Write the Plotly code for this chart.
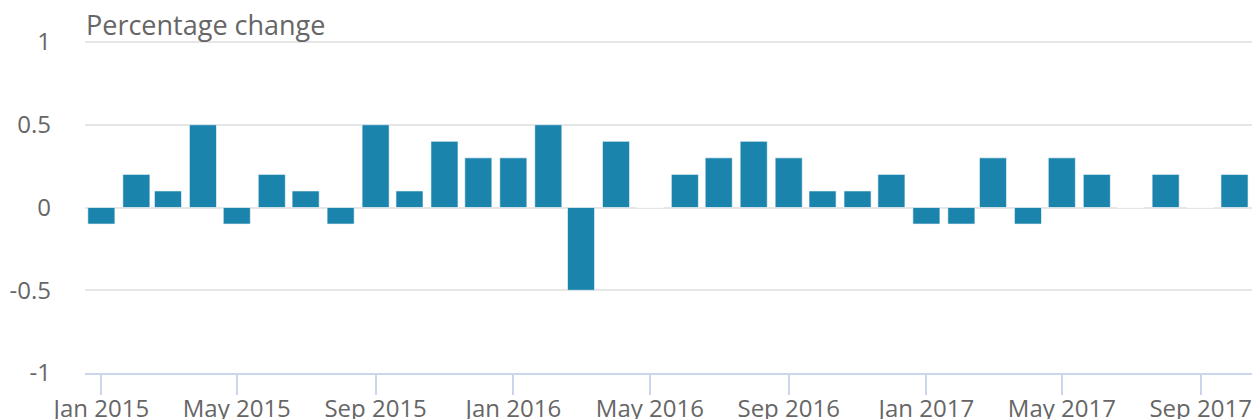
import plotly.graph_objects as go

months = ["2015-01-01","2015-02-01","2015-03-01","2015-04-01","2015-05-01","2015-06-01",
          "2015-07-01","2015-08-01","2015-09-01","2015-10-01","2015-11-01","2015-12-01",
          "2016-01-01","2016-02-01","2016-03-01","2016-04-01","2016-05-01","2016-06-01",
          "2016-07-01","2016-08-01","2016-09-01","2016-10-01","2016-11-01","2016-12-01",
          "2017-01-01","2017-02-01","2017-03-01","2017-04-01","2017-05-01","2017-06-01",
          "2017-07-01","2017-08-01","2017-09-01","2017-10-01"]
values = [-0.1, 0.2, 0.1, 0.5, -0.1, 0.2, 0.1, -0.1, 0.5, 0.1, 0.4, 0.3,
          0.3, 0.5, -0.5, 0.4, 0.0, 0.2, 0.3, 0.4, 0.3, 0.1, 0.1, 0.2,
          -0.1, -0.1, 0.3, -0.1, 0.3, 0.2, 0.0, 0.2, 0.0, 0.2]
y_ticks = [-1, -0.5, 0, 0.5, 1]
y_tick_labels = ["-1", "-0.5", "0", "0.5", "1"]

fig = go.Figure(go.Bar(
    x=months, y=values,
    marker=dict(color="#1b84ad", line=dict(color="rgba(255,255,255,0.6)", width=1)),
    width=24 * 86400000,
))

fig.update_layout(
    width=1255, height=419,
    margin=dict(l=85, r=3, t=38, b=46),
    paper_bgcolor="white", plot_bgcolor="white",
    font=dict(family="Open Sans", size=24, color="#666666"),
    showlegend=False,
    xaxis=dict(
        type="date", automargin=False,
        range=["2014-12-17 12:00", "2017-10-16 12:00"],
        dtick="M4", tick0="2015-01-01", tickformat="%b %Y",
        showgrid=False, showline=True, linecolor="#ccd6eb", linewidth=2,
        ticks="outside", ticklen=20, tickcolor="#ccd6eb", tickwidth=2,
        ticklabelstandoff=-7,
        tickfont=dict(size=24, color="#666666"),
        zeroline=False,
    ),
    yaxis=dict(
        automargin=False,
        range=[-1.0, 1.0242],
        tickvals=y_ticks, ticktext=y_tick_labels,
        showgrid=True, gridcolor="#e6e6e6", gridwidth=2,
        zeroline=True, zerolinecolor="#e6e6e6", zerolinewidth=2,
        ticklabelstandoff=33,
        tickfont=dict(size=24, color="#666666"),
        showline=False,
    ),
    annotations=[dict(
        text="Percentage change", xref="paper", yref="paper",
        x=0, y=1, xanchor="left", yanchor="bottom", yshift=-7, xshift=-1,
        showarrow=False, font=dict(size=27, color="#666666"),
    )],
)

fig.write_html("out.html", config={"displayModeBar": False},
               post_script="document.body.style.margin='0';document.body.style.padding='0';document.body.style.overflow='hidden';")
